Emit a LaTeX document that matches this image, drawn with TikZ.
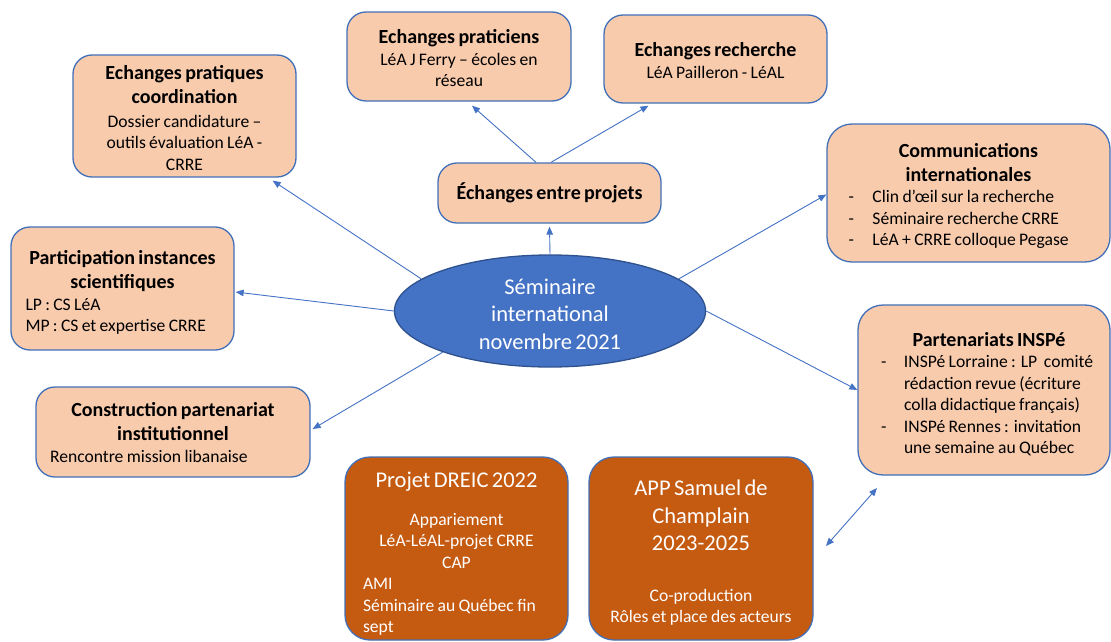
\documentclass[tikz,border=0pt]{standalone}
\usepackage{fontspec}
\setmainfont{Carlito}
\usetikzlibrary{shapes.geometric,arrows.meta,calc}
\definecolor{peach}{HTML}{F8CBAD}
\definecolor{bord}{HTML}{4170B8}
\definecolor{rust}{HTML}{C55A11}
\definecolor{ellfill}{HTML}{4472C4}
\definecolor{ellbord}{HTML}{2F528F}
\definecolor{arr}{HTML}{4472C4}
\setlength{\parindent}{0pt}
\setlength{\parskip}{0pt}
\newcommand{\ttlfont}{\fontsize{20}{24.4}\selectfont\bfseries}
\newcommand{\bdyfont}{\fontsize{17.6}{21.5}\selectfont}
\newcommand{\bigfont}{\fontsize{22.5}{27.5}\selectfont}
\newcommand{\tstrut}[1]{\rule{0pt}{#1pt}}
\begin{document}
\begin{tikzpicture}[x=1pt,y=-1pt,
  box/.style={draw=bord, line width=1.3pt, fill=peach, rounded corners=19pt, inner sep=0pt, text=black},
  darkbox/.style={draw=bord, line width=1.3pt, fill=rust, rounded corners=25pt, inner sep=0pt, text=white},
  conn/.style={draw=arr, line width=0.9pt, -{Triangle[length=8pt,width=6.5pt]}},
  dbl/.style={draw=arr, line width=0.9pt, {Triangle[length=8pt,width=6.5pt]}-{Triangle[length=8pt,width=6.5pt]}}
]
\useasboundingbox (0,0) rectangle (1111,642);

% central ellipse
\node[ellipse, draw=ellbord, line width=1.3pt, fill=ellfill, minimum width=306pt, minimum height=112pt, inner sep=0pt, text=white, text width=220pt] (sem) at (550,311)
 {\centering\bigfont\tstrut{22}Séminaire\\international\\novembre 2021\par};

% peach boxes
\node[box, minimum width=223pt, minimum height=122pt, text width=212pt] (coord) at (184.5,116)
 {{\centering\ttlfont\tstrut{18}Echanges pratiques\\coordination\par}\vspace{2pt}{\centering\bdyfont Dossier candidature –\\outils évaluation LéA -\\CRRE\par}};

\node[box, minimum width=224pt, minimum height=89pt, text width=212pt] (prat) at (459,56.5)
 {{\centering\ttlfont\tstrut{18}Echanges praticiens\par}{\centering\bdyfont LéA J Ferry – écoles en\\réseau\par}};

\node[box, minimum width=223pt, minimum height=88pt, text width=212pt] (rech) at (715.5,59)
 {{\centering\ttlfont\tstrut{17}Echanges recherche\par}{\centering\bdyfont LéA Pailleron - LéAL\par}};

\node[box, minimum width=223pt, minimum height=60pt, text width=212pt] (epr) at (549.5,193)
 {{\centering\ttlfont Échanges entre projets\par}};

\node[box, rounded corners=25pt, minimum width=283pt, minimum height=138pt, text width=260pt] (comm) at (968.5,193)
 {{\centering\ttlfont\tstrut{20}Communications\\internationales\par}%
  {\raggedright\bdyfont
   \hspace*{10pt}\makebox[24pt][l]{-}Clin d’œil sur la recherche\\
   \hspace*{10pt}\makebox[24pt][l]{-}Séminaire recherche CRRE\\
   \hspace*{10pt}\makebox[24pt][l]{-}LéA + CRRE colloque Pegase\par}};

\node[box, minimum width=223pt, minimum height=123pt, text width=210pt] (part) at (122.5,288.5)
 {{\centering\ttlfont\tstrut{22}Participation instances\\scientifiques\par}%
  {\raggedright\bdyfont\hspace*{8pt}LP : CS LéA\\\hspace*{8pt}MP : CS et expertise CRRE\par}};

\node[box, minimum width=274pt, minimum height=90pt, text width=260pt] (cons) at (173,432)
 {{\centering\ttlfont\tstrut{15}Construction partenariat\\institutionnel\par}%
  {\raggedright\bdyfont\hspace*{7pt}Rencontre mission libanaise\par}};

\node[box, rounded corners=25pt, minimum width=252pt, minimum height=170pt, text width=246pt] (inspe) at (984,390)
 {{\centering\ttlfont\tstrut{22}\hspace*{10pt}Partenariats INSPé\par}%
  {\raggedright\bdyfont
   \hspace*{20pt}\makebox[23pt][l]{-}INSPé Lorraine : LP~ comité\\
   \hspace*{43pt}rédaction revue (écriture\\
   \hspace*{43pt}colla didactique français)\\
   \hspace*{20pt}\makebox[23pt][l]{-}INSPé Rennes : invitation\\
   \hspace*{43pt}une semaine au Québec\par}};

% dark boxes
\node[darkbox, minimum width=223pt, minimum height=183pt, text width=205pt] (dreic) at (456.5,548.5)
 {{\centering\bigfont\tstrut{26}Projet DREIC 2022\par}\vspace{16pt}%
  {\centering\bdyfont Appariement\\LéA-LéAL-projet CRRE\\CAP\par}%
  {\raggedright\bdyfont\hspace*{9pt}AMI\\\hspace*{9pt}Séminaire au Québec fin\\\hspace*{9pt}sept\par}};

\node[darkbox, minimum width=224pt, minimum height=183pt, text width=212pt] (app) at (701,548.5)
 {{\centering\bigfont\tstrut{24}APP Samuel de\\Champlain\\2023-2025\par}\vspace{29pt}%
  {\centering\bdyfont Co-production\\Rôles et place des acteurs\par}};

% connectors
\draw[conn] (sem.north) -- ($(epr.south)+(0,3)$);
\draw[conn] ($(epr.north)+(-13.5,0)$) -- ($(prat.south)+(13,4)$);
\draw[conn] ($(epr.north)+(1.5,0)$) -- ($(rech.south)+(-67,2)$);
\draw[conn] (sem.166) -- ($(coord.south east)+(-24,3)$);
\draw[conn] (sem.west) -- ($(part.east)+(1,3.5)$);
\draw[conn] (sem.201) -- ($(cons.east)+(2,-3)$);
\draw[conn] (sem.14) -- ($(comm.west)+(0,1.5)$);
\draw[conn] (sem.east) -- (inspe.west);
\coordinate (d1) at (826,546);
\coordinate (d2) at (877,488);
\draw[dbl] (d1) -- (d2);
\end{tikzpicture}
\end{document}
